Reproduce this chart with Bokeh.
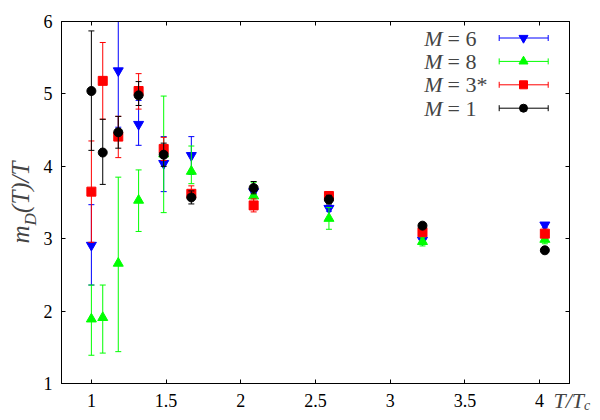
import numpy as np
from bokeh.plotting import figure
from bokeh.models import (Range1d, LinearAxis, FixedTicker, Label,
                          CustomJSTickFormatter, ColumnDataSource)
from bokeh.embed import file_html
from bokeh.resources import INLINE

# ---------------- data ----------------
t_all = [1.0, 1.076, 1.18, 1.316, 1.484, 1.669, 2.086, 2.59, 3.216, 4.035]

# M = 6 (blue, down triangles)
t_m6 = [1.0, 1.18, 1.316, 1.484, 1.669, 2.086, 2.59, 3.216, 4.035]
v_m6 = [2.91, 5.32, 4.58, 4.04, 4.15, 3.65, 3.42, 2.98, 3.19]
lo_m6 = [2.36, 4.54, 4.29, 3.65, 3.89, 3.60, 3.38, 2.94, 3.15]
hi_m6 = [3.47, 6.10, 4.91, 4.41, 4.41, 3.70, 3.46, 3.02, 3.22]

# M = 8 (green, up triangles)
t_m8 = t_all
v_m8 = [1.89, 1.91, 2.66, 3.53, 4.17, 3.93, 3.59, 3.28, 2.96, 2.99]
lo_m8 = [1.39, 1.42, 1.44, 3.10, 3.36, 3.76, 3.50, 3.13, 2.90, 2.93]
hi_m8 = [2.36, 2.36, 3.85, 3.95, 4.97, 4.28, 3.78, 3.43, 3.02, 3.05]

# M = 3* (red, squares)
t_m3 = t_all
v_m3 = [3.65, 5.18, 4.41, 5.04, 4.24, 3.62, 3.46, 3.59, 3.09, 3.07]
lo_m3 = [2.95, 4.65, 4.12, 4.79, 4.08, 3.55, 3.37, 3.53, 3.05, 3.02]
hi_m3 = [4.35, 5.71, 4.69, 5.28, 4.40, 3.73, 3.55, 3.65, 3.13, 3.12]

# M = 1 (black, circles)
t_m1 = t_all
v_m1 = [5.04, 4.19, 4.47, 4.98, 4.16, 3.57, 3.70, 3.54, 3.18, 2.84]
lo_m1 = [4.22, 3.75, 4.25, 4.84, 4.00, 3.48, 3.62, 3.48, 3.14, 2.81]
hi_m1 = [5.87, 4.65, 4.69, 5.17, 4.32, 3.66, 3.79, 3.60, 3.22, 2.87]

series_names = ["6", "8", "3*", "1"]
x_ticks = [1, 1.5, 2, 2.5, 3, 3.5, 4]
y_ticks = [1, 2, 3, 4, 5, 6]

# ---------------- styling ----------------
SERIF = "Liberation Serif"
FW, FH = 508, 362

p = figure(width=600, height=420,
           x_range=Range1d(0.8, 4.2), y_range=Range1d(1, 6),
           output_backend="svg", toolbar_location=None,
           min_border_left=61, min_border_right=31,
           min_border_top=21, min_border_bottom=37,
           x_axis_type=None, y_axis_type=None)
p.background_fill_color = "white"
p.border_fill_color = "white"
p.outline_line_color = "black"
p.xgrid.visible = False
p.ygrid.visible = False
p.extra_x_ranges = {"lx": Range1d(0, FW)}
p.extra_y_ranges = {"ly": Range1d(FH, 0)}

fmt = CustomJSTickFormatter(code="return tick.toString();")


def style_axis(ax, show_labels):
    ax.major_tick_in = 4
    ax.major_tick_out = 0
    ax.minor_tick_in = 0
    ax.minor_tick_out = 0
    ax.axis_line_color = "black"
    ax.major_tick_line_color = "black"
    ax.formatter = fmt
    if show_labels:
        ax.major_label_text_font = SERIF
        ax.major_label_text_font_size = "18px"
        ax.major_label_text_color = "black"
    else:
        ax.major_label_text_font_size = "0px"
        ax.major_label_text_color = None
        ax.major_label_standoff = 0


xb = LinearAxis(ticker=FixedTicker(ticks=x_ticks))
style_axis(xb, True)
xb.major_label_standoff = 10
p.add_layout(xb, "below")
xt = LinearAxis(ticker=FixedTicker(ticks=x_ticks))
style_axis(xt, False)
p.add_layout(xt, "above")
yl = LinearAxis(ticker=FixedTicker(ticks=y_ticks))
style_axis(yl, True)
yl.major_label_standoff = 9
p.add_layout(yl, "left")
yr = LinearAxis(ticker=FixedTicker(ticks=y_ticks))
style_axis(yr, False)
p.add_layout(yr, "right")

colors = ["#0000ff", "#00ff00", "#ff0000", "#000000"]
markers = ["inverted_triangle", "triangle", "square", "circle"]
sizes = [10, 10, 9, 9]
data = [(t_m6, v_m6, lo_m6, hi_m6), (t_m8, v_m8, lo_m8, hi_m8),
        (t_m3, v_m3, lo_m3, hi_m3), (t_m1, v_m1, lo_m1, hi_m1)]

for (t, v, lo, hi), c, m, s in zip(data, colors, markers, sizes):
    src = ColumnDataSource(dict(t=t, v=v, lo=lo, hi=hi))
    p.segment(x0="t", y0="lo", x1="t", y1="hi", source=src,
              line_color=c, line_width=1)
    p.scatter(x="t", y="lo", source=src, marker="dash", size=6,
              line_color=c, line_width=1)
    p.scatter(x="t", y="hi", source=src, marker="dash", size=6,
              line_color=c, line_width=1)
    p.scatter(x="t", y="v", source=src, marker=m, size=s,
              fill_color=c, line_color=c)

# ---------------- legend (label left, sample right) ----------------
LEG_TOP, LEG_DY = 16.5, 23.4
LX0, LX1, LXM = 437.7, 486.7, 462.0
for i, (name, c, m, s) in enumerate(zip(series_names, colors, markers, sizes)):
    yy = LEG_TOP + i * LEG_DY
    p.segment(x0=[LX0], y0=[yy], x1=[LX1], y1=[yy], line_color=c,
              line_width=1, x_range_name="lx", y_range_name="ly")
    p.segment(x0=[LX0, LX1], y0=[yy - 3, yy - 3], x1=[LX0, LX1],
              y1=[yy + 3, yy + 3], line_color=c, line_width=1,
              x_range_name="lx", y_range_name="ly")
    p.scatter(x=[LXM], y=[yy], marker=m, size=s - 1, fill_color=c,
              line_color=c, x_range_name="lx", y_range_name="ly")
    p.add_layout(Label(x=362.7, y=yy, text="M", text_font=SERIF,
                       text_font_style="italic", text_font_size="22px",
                       text_baseline="middle", text_align="left",
                       x_range_name="lx", y_range_name="ly"))
    p.add_layout(Label(x=386.0, y=yy, text="= " + name, text_font=SERIF,
                       text_font_size="22px", text_baseline="middle",
                       text_align="left", x_range_name="lx",
                       y_range_name="ly"))

# ---------------- axis titles (canvas units, placed in side panels) ------
NB = "\u00a0"
F1, F2 = 25, 17
# x title: T/T_c
p.add_layout(Label(x=553, y=400, x_units="canvas", y_units="canvas",
                   text="T/T", text_font=SERIF, text_font_style="italic",
                   text_font_size="22px", text_baseline="middle",
                   text_align="left"), "left")
p.add_layout(Label(x=553 + 1.39 * 22, y=405, x_units="canvas",
                   y_units="canvas", text="c", text_font=SERIF,
                   text_font_style="italic", text_font_size="14px",
                   text_baseline="middle", text_align="left"), "left")
# y title: m_D(T)/T, rotated
p.add_layout(Label(x=19.5, y=243, x_units="canvas", y_units="canvas",
                   text="m" + NB + NB + "(T)/T", text_font=SERIF,
                   text_font_style="italic", text_font_size=f"{F1}px",
                   text_baseline="middle", text_align="left",
                   angle=np.pi / 2), "right")
p.add_layout(Label(x=30, y=243 - 0.722 * F1, x_units="canvas",
                   y_units="canvas", text="D", text_font=SERIF,
                   text_font_style="italic", text_font_size=f"{F2}px",
                   text_baseline="middle", text_align="left",
                   angle=np.pi / 2), "above")

open("out.html", "w").write(file_html(p, INLINE))
